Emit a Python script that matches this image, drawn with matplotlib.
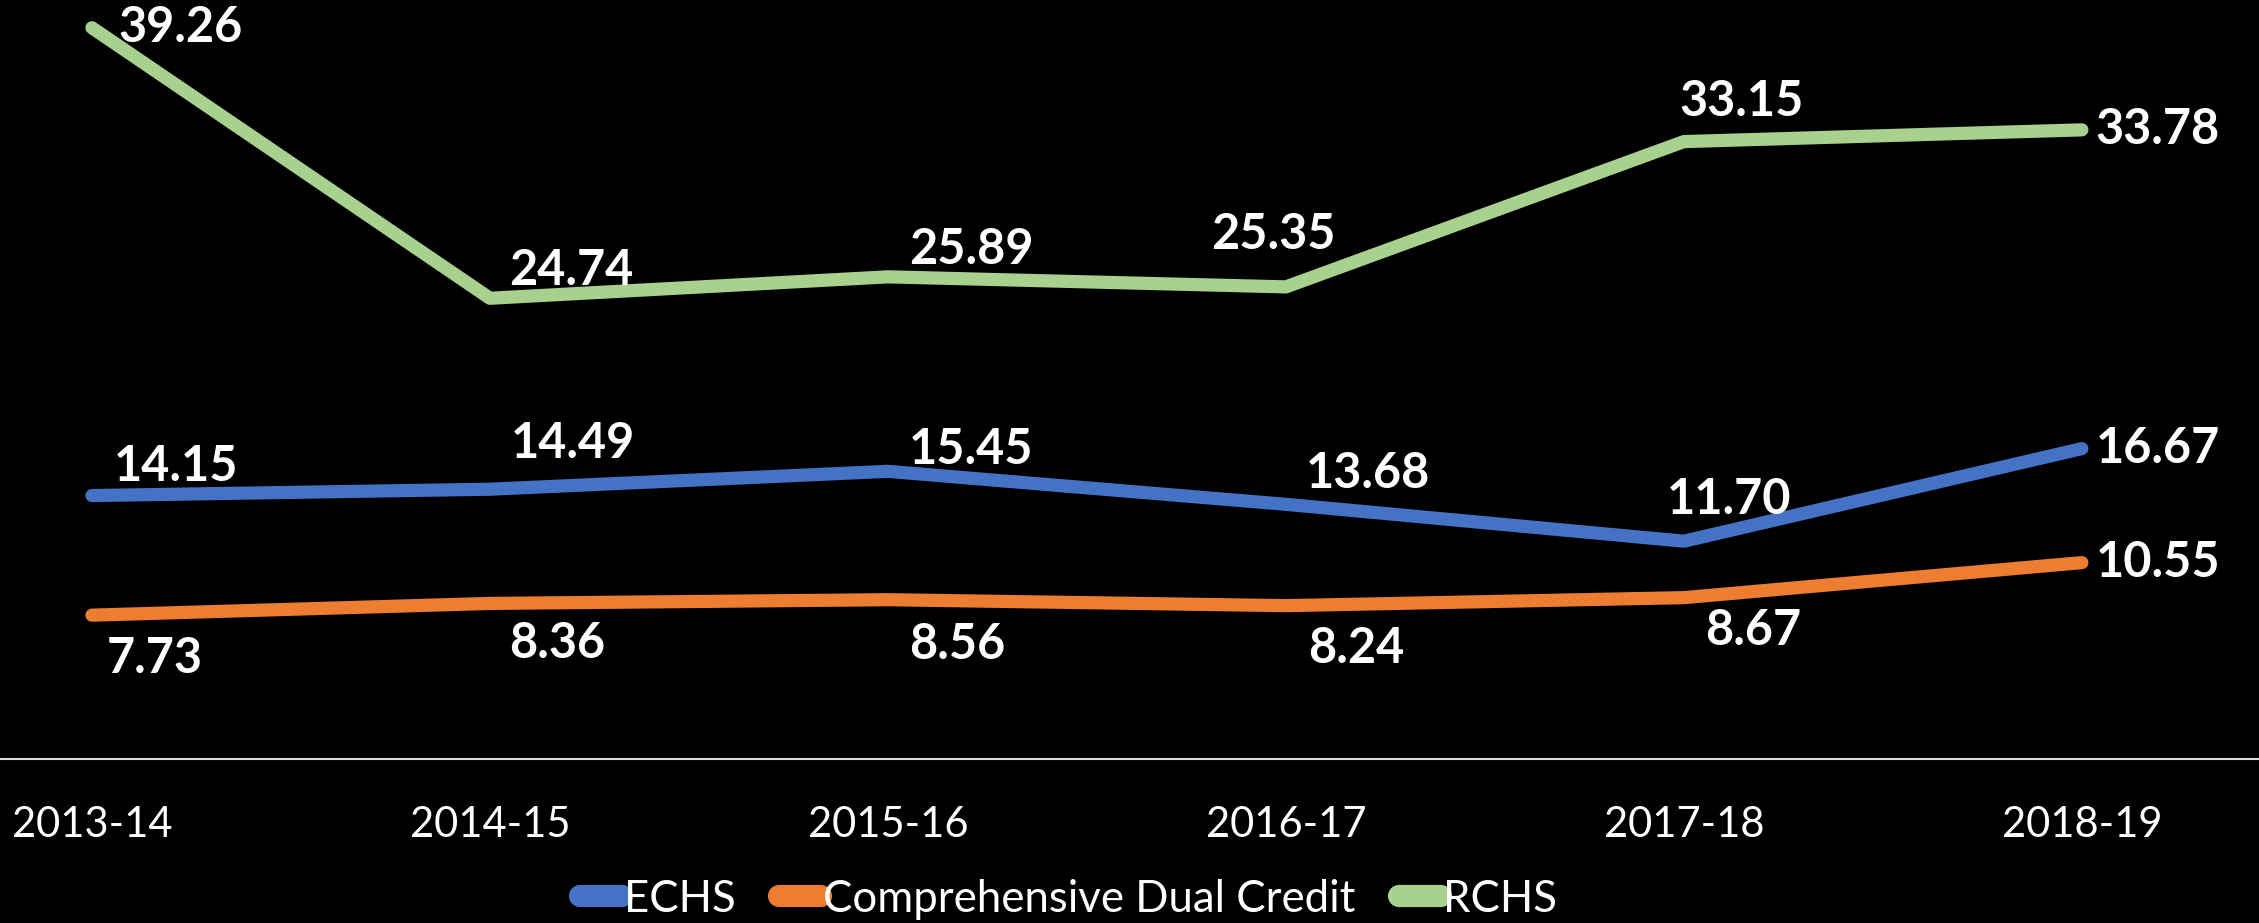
"""Enrollment share by program type, 2013-14 to 2018-19."""

import matplotlib

matplotlib.use("Agg")
import matplotlib.pyplot as plt

years = ["2013-14", "2014-15", "2015-16", "2016-17", "2017-18", "2018-19"]
echs = [14.15, 14.49, 15.45, 13.68, 11.70, 16.67]
dual_credit = [7.73, 8.36, 8.56, 8.24, 8.67, 10.55]
rchs = [39.26, 24.74, 25.89, 25.35, 33.15, 33.78]

# label offsets in points (left edge of text, vertical centre) relative to the point
echs_offsets = [(16, 21), (15, 33), (15, 16), (14, 22), (-12, 30), (10, 0)]
dual_offsets = [(11, -31), (14, -29), (15, -32), (16, -31), (15, -24), (10, 0)]
rchs_offsets = [(19, 0), (14, 20), (15, 20), (-54, 38), (-3, 29), (10, 0)]

plt.rcParams["font.family"] = ["Lato", "DejaVu Sans"]

fig = plt.figure(figsize=(22.59, 9.23), dpi=100, facecolor="black")
ax = fig.add_axes([0, 0.1775, 1, 0.8225], facecolor="black")

series = [
    ("ECHS", echs, "#4472C4", echs_offsets),
    ("Comprehensive Dual Credit", dual_credit, "#ED7D31", dual_offsets),
    ("RCHS", rchs, "#A9D18E", rchs_offsets),
]
x = list(range(len(years)))
for name, values, color, offsets in series:
    ax.plot(x, values, color=color, lw=9.5, solid_capstyle="round",
            solid_joinstyle="round", label=name)
    for xi, v, (dx, dy) in zip(x, values, offsets):
        ax.annotate(f"{v:.2f}", (xi, v), xytext=(dx, dy), textcoords="offset points",
                    ha="left", va="center", color="white", fontsize=35, fontweight="bold")

ax.set_xlim(-0.231, 5.445)
ax.set_ylim(0, 40.75)
ax.set_xticks(x)
ax.set_xticklabels(years, color="white", fontsize=30)
ax.tick_params(axis="x", length=0, pad=34)
ax.set_yticks([])
for side in ("top", "left", "right"):
    ax.spines[side].set_visible(False)
ax.spines["bottom"].set_color("#D9D9D9")
ax.spines["bottom"].set_linewidth(1.5)

leg = fig.legend(loc="center", bbox_to_anchor=(0.473, 0.026), ncol=3, frameon=False,
                 fontsize=31.5, handlelength=0.95, handletextpad=0.05, columnspacing=1.0,
                 labelcolor="white")
for line in leg.get_lines():
    line.set_linewidth(16)
    line.set_solid_capstyle("round")

fig.savefig("out.png", dpi=100, facecolor="black")
